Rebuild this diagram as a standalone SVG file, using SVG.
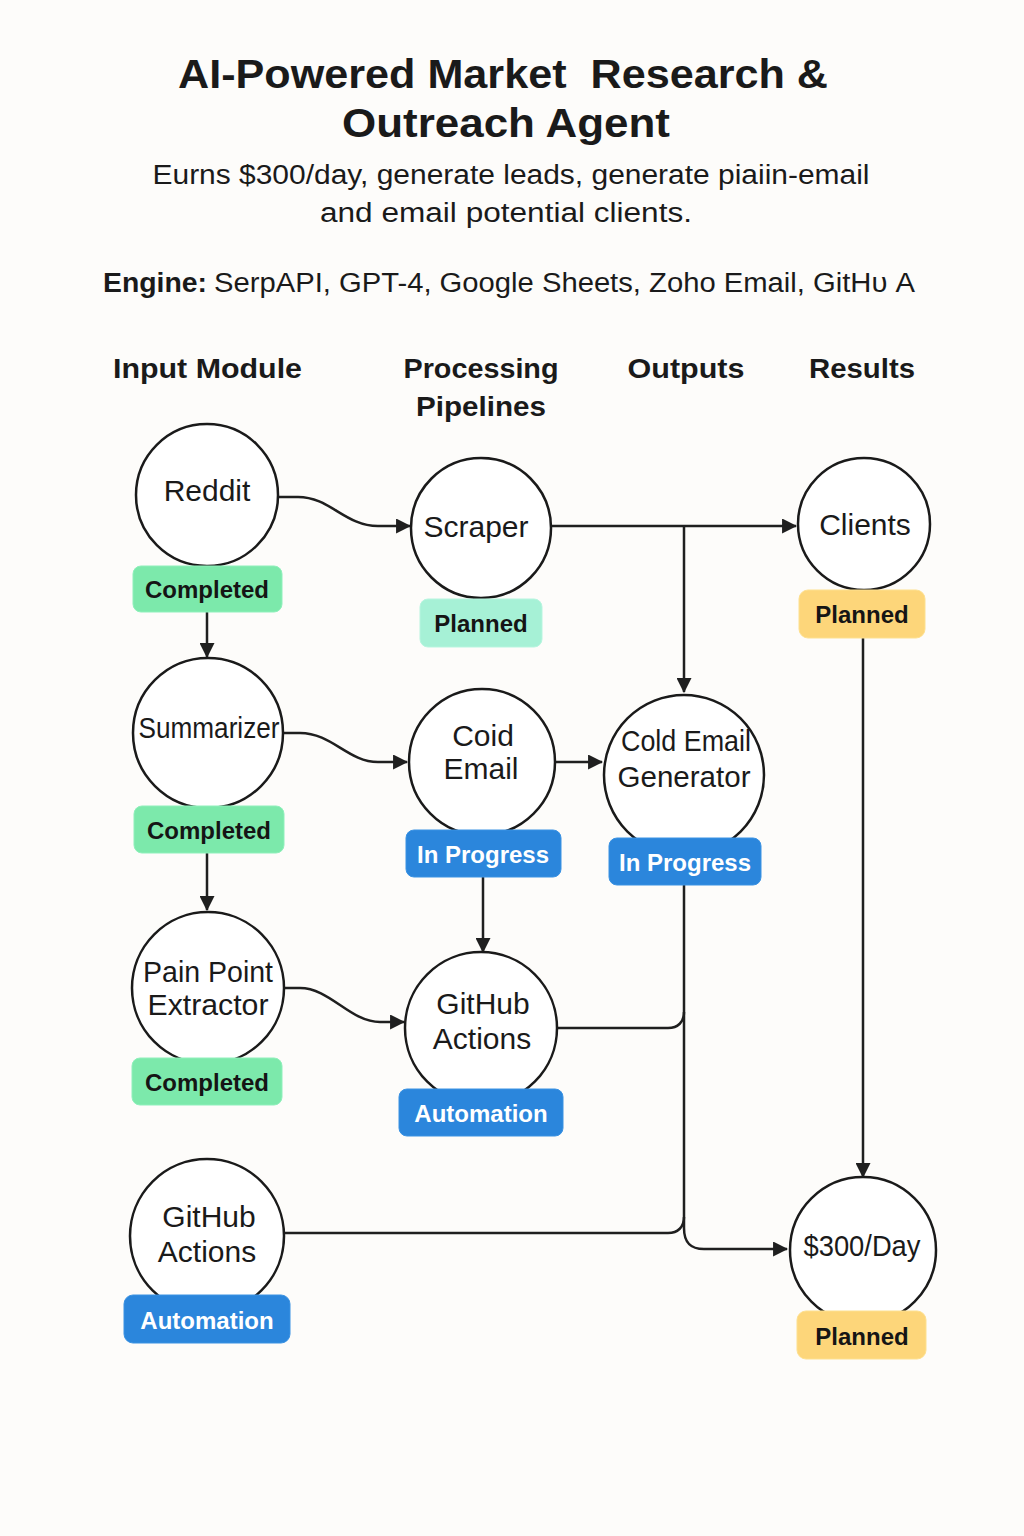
<svg xmlns="http://www.w3.org/2000/svg" width="1024" height="1536" viewBox="0 0 1024 1536">
<defs>
<marker id="arr" viewBox="0 0 14 14" refX="13" refY="7" markerWidth="15" markerHeight="15" markerUnits="userSpaceOnUse" orient="auto">
<path d="M0,0 L14,7 L0,14 Z" fill="#1f1f1f"/>
</marker>
<style>
.t{font-family:"Liberation Sans",Arial,sans-serif;fill:#1a1a1a}
.title{font-size:40px;font-weight:bold;white-space:pre}
.sub{font-size:27px}
.hdr{font-size:28px;font-weight:bold}
.nt{font-size:30px;text-anchor:middle}
.node{fill:#ffffff;stroke:#1a1a1a;stroke-width:2.5}
.bt{font-family:"Liberation Sans",Arial,sans-serif;font-size:24px;font-weight:bold;text-anchor:middle}
.dark{fill:#151515}
.light{fill:#ffffff}
.green{fill:#7ce9ab;stroke:#8ff0bb;stroke-width:1}
.mint{fill:#a6f1d6;stroke:#b7f5df;stroke-width:1}
.yellow{fill:#fdd67a;stroke:#fde08f;stroke-width:1}
.blue{fill:#2b86dc;stroke:#3a92e3;stroke-width:1}
.c{fill:none;stroke:#1f1f1f;stroke-width:2.5}
</style>
</defs>
<rect width="1024" height="1536" fill="#fdfcfa"/>

<g id="header">
<text class="t title" x="503" y="88" text-anchor="middle" textLength="650" lengthAdjust="spacingAndGlyphs" xml:space="preserve">AI-Powered Market  Research &amp;</text>
<text class="t title" x="506" y="137" text-anchor="middle" textLength="328" lengthAdjust="spacingAndGlyphs">Outreach Agent</text>
<text class="t sub" x="511" y="184" text-anchor="middle" textLength="717" lengthAdjust="spacingAndGlyphs">Eurns $300/day, generate leads, generate piaiin-email</text>
<text class="t sub" x="506" y="222" text-anchor="middle" textLength="372" lengthAdjust="spacingAndGlyphs">and email potential clients.</text>
<text class="t sub" x="103" y="292" font-weight="bold" textLength="104" lengthAdjust="spacingAndGlyphs">Engine:</text>
<text class="t sub" x="214" y="292" textLength="701" lengthAdjust="spacingAndGlyphs">SerpAPI, GPT-4, Google Sheets, Zoho Email, GitHυ A</text>
</g>

<g id="column-headers">
<text class="t hdr" x="113" y="378" textLength="189" lengthAdjust="spacingAndGlyphs">Input Module</text>
<text class="t hdr" x="481" y="378" text-anchor="middle" textLength="155" lengthAdjust="spacingAndGlyphs">Processing</text>
<text class="t hdr" x="481" y="416" text-anchor="middle" textLength="130" lengthAdjust="spacingAndGlyphs">Pipelines</text>
<text class="t hdr" x="686" y="378" text-anchor="middle" textLength="117" lengthAdjust="spacingAndGlyphs">Outputs</text>
<text class="t hdr" x="862" y="378" text-anchor="middle" textLength="106" lengthAdjust="spacingAndGlyphs">Results</text>
</g>

<g id="connectors">
<path class="c" d="M279,497 L298,497 C330,497 345,526 378,526 L410,526" marker-end="url(#arr)"/>
<path class="c" d="M207,612 L207,657" marker-end="url(#arr)"/>
<path class="c" d="M552,526 L796,526" marker-end="url(#arr)"/>
<path class="c" d="M684,526 L684,692" marker-end="url(#arr)"/>
<path class="c" d="M283,733 L300,733 C332,733 348,762 378,762 L407,762" marker-end="url(#arr)"/>
<path class="c" d="M555,762 L602,762" marker-end="url(#arr)"/>
<path class="c" d="M207,853 L207,910" marker-end="url(#arr)"/>
<path class="c" d="M483,877 L483,952" marker-end="url(#arr)"/>
<path class="c" d="M284,988 L300,988 C330,988 350,1022 380,1022 L404,1022" marker-end="url(#arr)"/>
<path class="c" d="M684,885 L684,1228 C684,1242 690,1249 704,1249 L787,1249" marker-end="url(#arr)"/>
<path class="c" d="M557,1028 L668,1028 C678,1028 684,1022 684,1012"/>
<path class="c" d="M284,1233 L668,1233 C678,1233 684,1227 684,1217"/>
<path class="c" d="M863,638 L863,1177" marker-end="url(#arr)"/>
</g>

<g id="node-reddit">
<circle class="node" cx="207" cy="495" r="71"/>
<text class="t nt" x="207" y="501">Reddit</text>
<rect class="green" x="133" y="566" width="149" height="46" rx="8"/>
<text class="bt dark" x="207" y="598">Completed</text>
</g>

<g id="node-scraper">
<circle class="node" cx="481" cy="528" r="70"/>
<text class="t nt" x="476" y="537">Scraper</text>
<rect class="mint" x="420" y="599" width="122" height="48" rx="8"/>
<text class="bt dark" x="481" y="632">Planned</text>
</g>

<g id="node-clients">
<circle class="node" cx="864" cy="524" r="66"/>
<text class="t nt" x="865" y="535">Clients</text>
<rect class="yellow" x="799" y="590" width="126" height="48" rx="9"/>
<text class="bt dark" x="862" y="623">Planned</text>
</g>

<g id="node-summarizer">
<circle class="node" cx="208" cy="733" r="75"/>
<text class="t nt" x="209" y="738" font-size="25" textLength="141" lengthAdjust="spacingAndGlyphs">Summarizer</text>
<rect class="green" x="134" y="806" width="150" height="47" rx="8"/>
<text class="bt dark" x="209" y="839">Completed</text>
</g>

<g id="node-coid-email">
<circle class="node" cx="482" cy="762" r="73"/>
<text class="t nt" x="483" y="746">Coid</text>
<text class="t nt" x="481" y="779">Email</text>
<rect class="blue" x="406" y="830" width="155" height="47" rx="8"/>
<text class="bt light" x="483" y="863">In Progress</text>
</g>

<g id="node-cold-email-generator">
<circle class="node" cx="684" cy="775" r="80"/>
<text class="t nt" x="686" y="751" font-size="29" textLength="130" lengthAdjust="spacingAndGlyphs">Cold Email</text>
<text class="t nt" x="684" y="787" font-size="29" textLength="133" lengthAdjust="spacingAndGlyphs">Generator</text>
<rect class="blue" x="609" y="838" width="152" height="47" rx="8"/>
<text class="bt light" x="685" y="871">In Progress</text>
</g>

<g id="node-pain-point">
<circle class="node" cx="208" cy="988" r="76"/>
<text class="t nt" x="208" y="982" font-size="29" textLength="130" lengthAdjust="spacingAndGlyphs">Pain Point</text>
<text class="t nt" x="208" y="1015" font-size="29" textLength="121" lengthAdjust="spacingAndGlyphs">Extractor</text>
<rect class="green" x="132" y="1058" width="150" height="47" rx="8"/>
<text class="bt dark" x="207" y="1091">Completed</text>
</g>

<g id="node-github-actions-mid">
<circle class="node" cx="481" cy="1028" r="76"/>
<text class="t nt" x="483" y="1014">GitHub</text>
<text class="t nt" x="482" y="1049">Actions</text>
<rect class="blue" x="399" y="1089" width="164" height="47" rx="8"/>
<text class="bt light" x="481" y="1122">Automation</text>
</g>

<g id="node-github-actions-bottom">
<circle class="node" cx="207" cy="1236" r="77"/>
<text class="t nt" x="209" y="1227">GitHub</text>
<text class="t nt" x="207" y="1262">Actions</text>
<rect class="blue" x="124" y="1295" width="166" height="48" rx="9"/>
<text class="bt light" x="207" y="1329">Automation</text>
</g>

<g id="node-300-day">
<circle class="node" cx="863" cy="1250" r="73"/>
<text class="t nt" x="862" y="1256" font-size="27" textLength="117" lengthAdjust="spacingAndGlyphs">$300/Day</text>
<rect class="yellow" x="797" y="1311" width="129" height="48" rx="9"/>
<text class="bt dark" x="862" y="1345">Planned</text>
</g>
</svg>
